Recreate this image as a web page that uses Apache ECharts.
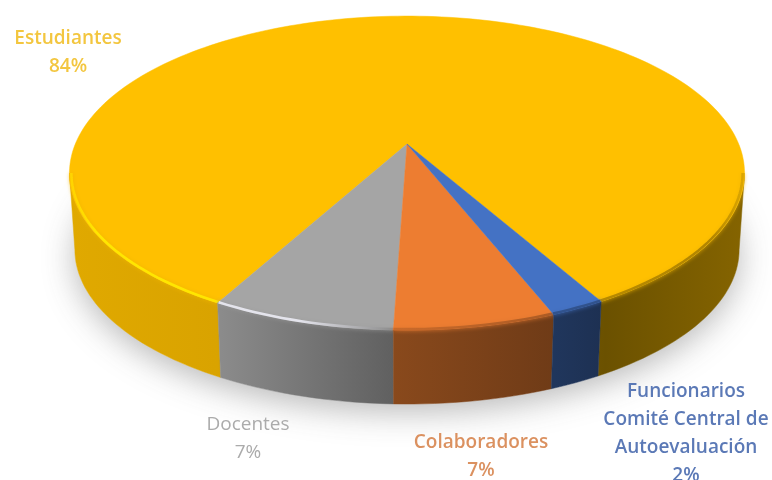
<!DOCTYPE html>
<html><head><meta charset="utf-8">
<style>html,body{margin:0;padding:0;background:#fff}#c{width:772px;height:480px}</style>
<script src="https://cdn.jsdelivr.net/npm/echarts@6/dist/echarts.min.js"></script>
</head><body><div id="c"></div>
<script>
var categories = ['Estudiantes', 'Docentes', 'Colaboradores', 'Funcionarios\nComité Central de\nAutoevaluación'];
var values = [83.9, 7.4, 6.5, 2.2];
var colors = ['#FFC000', '#A5A5A5', '#ED7D31', '#4472C4'];
var textColors = ['#F3C63F', '#ABABAB', '#DB9160', '#5B79B6'];
var rimLights = ['#FFE600', '#E4E4EC', '#F08E48', '#5A86D6'];
var labelAnchors = [[68, 25], [248, 411], [481, 429], [686, 378]];

var startDeg = 29.4;
var P = {cx: 407, cy: 144, rx: 331.7, ry: 151.6, k: -0.185, drop: 77, s: 0.984};
// lighting of the wall along x
var shade = [[70, .88], [217, .85], [394, .58], [555, .47], [605, .42], [745, .52]];

function hex(c) { return [1, 3, 5].map(function (i) { return parseInt(c.substr(i, 2), 16); }); }
function mult(c, f) { var r = hex(c); return 'rgb(' + r.map(function (v) { return Math.round(v * f); }).join(',') + ')'; }
function mix(a, b, t) { var x = hex(a), y = hex(b); return 'rgb(' + x.map(function (v, i) { return Math.round(v + (y[i] - v) * t); }).join(',') + ')'; }
function hgrad(stops) { return {type: 'linear', x: P.cx - 337, y: 0, x2: P.cx + 338, y2: 0, global: true, colorStops: stops}; }
function sideFill(c) {
  return hgrad(shade.map(function (s) { return {offset: (s[0] - 70) / 675, color: mult(c, s[1])}; }));
}
function half(c) { var r = hex(c); return '#' + r.map(function (v) { var h = Math.round(v * .5).toString(16); return h.length < 2 ? '0' + h : h; }).join(''); }
function rimStroke(i) {
  var c = colors[i], L = rimLights[i];
  return hgrad([
    {offset: 0, color: mix(c, L, .5)}, {offset: .04, color: L}, {offset: .34, color: L},
    {offset: .48, color: mix(c, half(c), .3)},
    {offset: .72, color: mix(c, half(c), .55)},
    {offset: .95, color: mix(c, half(c), .6)},
    {offset: 1, color: mix(c, half(c), .25)}
  ]);
}

function rimTop(deg) {
  var a = deg * Math.PI / 180, u = Math.sin(a), v = Math.cos(a), w = 1 + P.k * v;
  return [P.cx + P.rx * u / w, P.cy + P.ry * v / w];
}
function rimBevel(deg) {
  var p = rimTop(deg), ecy = P.cy + 29;
  return [P.cx + .9945 * (p[0] - P.cx), ecy + .9945 * (p[1] - ecy)];
}
function rimBot(deg) {
  var p = rimTop(deg);
  return [P.cx + P.s * (p[0] - P.cx), P.cy + P.drop + P.s * (p[1] - P.cy)];
}
function arc(fn, a, b) {
  var n = Math.max(2, Math.ceil(Math.abs(b - a) / 1.5)), out = [];
  for (var i = 0; i <= n; i++) out.push(fn(a + (b - a) * i / n));
  return out;
}
var total = values.reduce(function (s, v) { return s + v; }, 0);
var tangentDeg = Math.acos(-P.k) * 180 / Math.PI;
function sliceRange(i) {
  var a = startDeg;
  for (var j = 0; j < i; j++) a += values[j] / total * 360;
  return [a, a + values[i] / total * 360];
}
function visible(r, lim) {
  var out = [];
  if (r[0] < lim) out.push([r[0], Math.min(r[1], lim)]);
  if (r[1] > 360 - lim) out.push([Math.max(r[0], 360 - lim), r[1]]);
  return out;
}

function renderItem(params, api) {
  var i = params.dataIndex, val = api.value(1), r = sliceRange(i), c = colors[i];
  var kids = [];
  if (i === 0) {
    kids.push({type: 'polygon', shape: {points: arc(rimBot, 0, 359)},
      style: {fill: '#fff', shadowColor: 'rgba(70,70,70,.38)', shadowBlur: 32, shadowOffsetY: 8, shadowOffsetX: 0}});
  }
  // visible wall: rim up to the silhouette tangent
  visible(r, tangentDeg).forEach(function (q) {
    kids.push({type: 'polygon', shape: {points: arc(rimTop, q[0], q[1]).concat(arc(rimBot, q[1], q[0]))},
      style: {fill: sideFill(c), stroke: sideFill(c), lineWidth: .5}});
  });
  // top face
  kids.push({type: 'polygon', shape: {points: [[P.cx, P.cy]].concat(arc(rimTop, r[0], r[1]))},
    style: {fill: c, stroke: c, lineWidth: .5}});
  // soft bevel along the rim
  visible(r, tangentDeg).forEach(function (q) {
    kids.push({type: 'polyline', shape: {points: arc(rimBevel, q[0], q[1])},
      style: {fill: 'none', stroke: rimStroke(i), lineWidth: 2.6, shadowBlur: 4, shadowColor: mix(c, half(c), .1)}});
  });
  var a = labelAnchors[i];
  kids.push({type: 'text', x: a[0], y: a[1],
    style: {text: categories[i] + '\n' + Math.round(val) + '%', align: 'center', verticalAlign: 'top',
      font: (i === 1 ? '400' : '600') + ' 19px "Open Sans"', lineHeight: 28, fill: textColors[i]}});
  return {type: 'group', children: kids};
}

var chart = echarts.init(document.getElementById('c'), null, {renderer: 'canvas'});
chart.setOption({
  animation: false,
  backgroundColor: '#fff',
  series: [{
    type: 'custom', coordinateSystem: 'none', renderItem: renderItem, silent: true,
    data: categories.map(function (n, i) { return {name: n, value: [i, values[i]]}; })
  }]
});
</script></body></html>
